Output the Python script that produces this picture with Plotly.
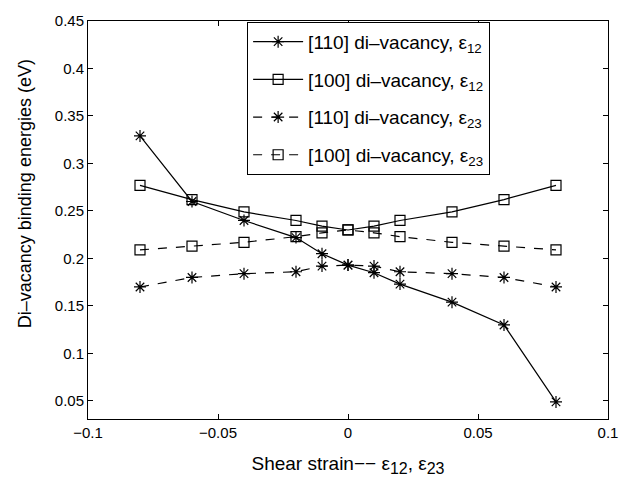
import plotly.graph_objects as go

strain = [-0.08, -0.06, -0.04, -0.02, -0.01, 0.0, 0.01, 0.02, 0.04, 0.06, 0.08]
e110_12 = [0.329, 0.260, 0.240, 0.222, 0.205, 0.193, 0.185, 0.173, 0.154, 0.130, 0.049]
e100_12 = [0.277, 0.262, 0.249, 0.240, 0.234, 0.230, 0.234, 0.240, 0.249, 0.262, 0.277]
e110_23 = [0.170, 0.180, 0.184, 0.186, 0.192, 0.193, 0.192, 0.186, 0.184, 0.180, 0.170]
e100_23 = [0.209, 0.213, 0.217, 0.223, 0.227, 0.230, 0.227, 0.223, 0.217, 0.213, 0.209]

names = ["[110] di–vacancy, ε<sub>12</sub>", "[100] di–vacancy, ε<sub>12</sub>",
         "[110] di–vacancy, ε<sub>23</sub>", "[100] di–vacancy, ε<sub>23</sub>"]
series = [e110_12, e100_12, e110_23, e100_23]
symbols = ["asterisk-open", "square-open", "asterisk-open", "square-open"]
dashes = ["solid", "solid", "dash", "dash"]

fig = go.Figure()
for i, (nm, ys, sym, ds) in enumerate(zip(names, series, symbols, dashes)):
    fig.add_trace(go.Scatter(
        x=strain, y=ys, name=nm, mode="lines+markers",
        line=dict(color="black", width=1.2, dash=ds),
        marker=dict(symbol=sym, size=10, color="black",
                    line=dict(color="black", width=1.2)),
        legendgroup=str(i),
    ))

font = "Liberation Sans, Arial, Helvetica, sans-serif"
fig.update_layout(
    width=640, height=483,
    margin=dict(l=88, r=32, t=14, b=64),
    paper_bgcolor="white", plot_bgcolor="white",
    font=dict(family=font, size=15, color="black"),
    showlegend=True,
    legend=dict(x=0.306, y=0.998, xanchor="left", yanchor="top",
                bordercolor="black", borderwidth=1, bgcolor="white",
                font=dict(size=19), tracegroupgap=10, itemwidth=50),
    xaxis=dict(range=[-0.1, 0.1], tickvals=[-0.1, -0.05, 0, 0.05, 0.1],
               ticktext=["−0.1", "−0.05", "0", "0.05", "0.1"],
               showgrid=False, zeroline=False, showline=True, linecolor="black",
               linewidth=1, mirror="allticks", ticks="inside", ticklen=5,
               tickcolor="black",
               title=dict(text="Shear strain−− ε<sub><span style='font-size:16px'>12</span></sub>, "
                               "ε<sub><span style='font-size:16px'>23</span></sub>",
                          standoff=16, font=dict(size=19))),
    yaxis=dict(range=[0.031, 0.45],
               tickvals=[0.05, 0.1, 0.15, 0.2, 0.25, 0.3, 0.35, 0.4, 0.45],
               ticktext=["0.05", "0.1", "0.15", "0.2", "0.25", "0.3", "0.35", "0.4", "0.45"],
               showgrid=False, zeroline=False, showline=True, linecolor="black",
               linewidth=1, mirror="allticks", ticks="inside", ticklen=5,
               tickcolor="black"),
    annotations=[dict(text="Di–vacancy binding energies (eV)", textangle=-90,
                      xref="paper", yref="paper", x=-0.121, y=0.565,
                      xanchor="center", yanchor="middle", showarrow=False,
                      font=dict(size=18))],
)

fig.write_html("out.html")
